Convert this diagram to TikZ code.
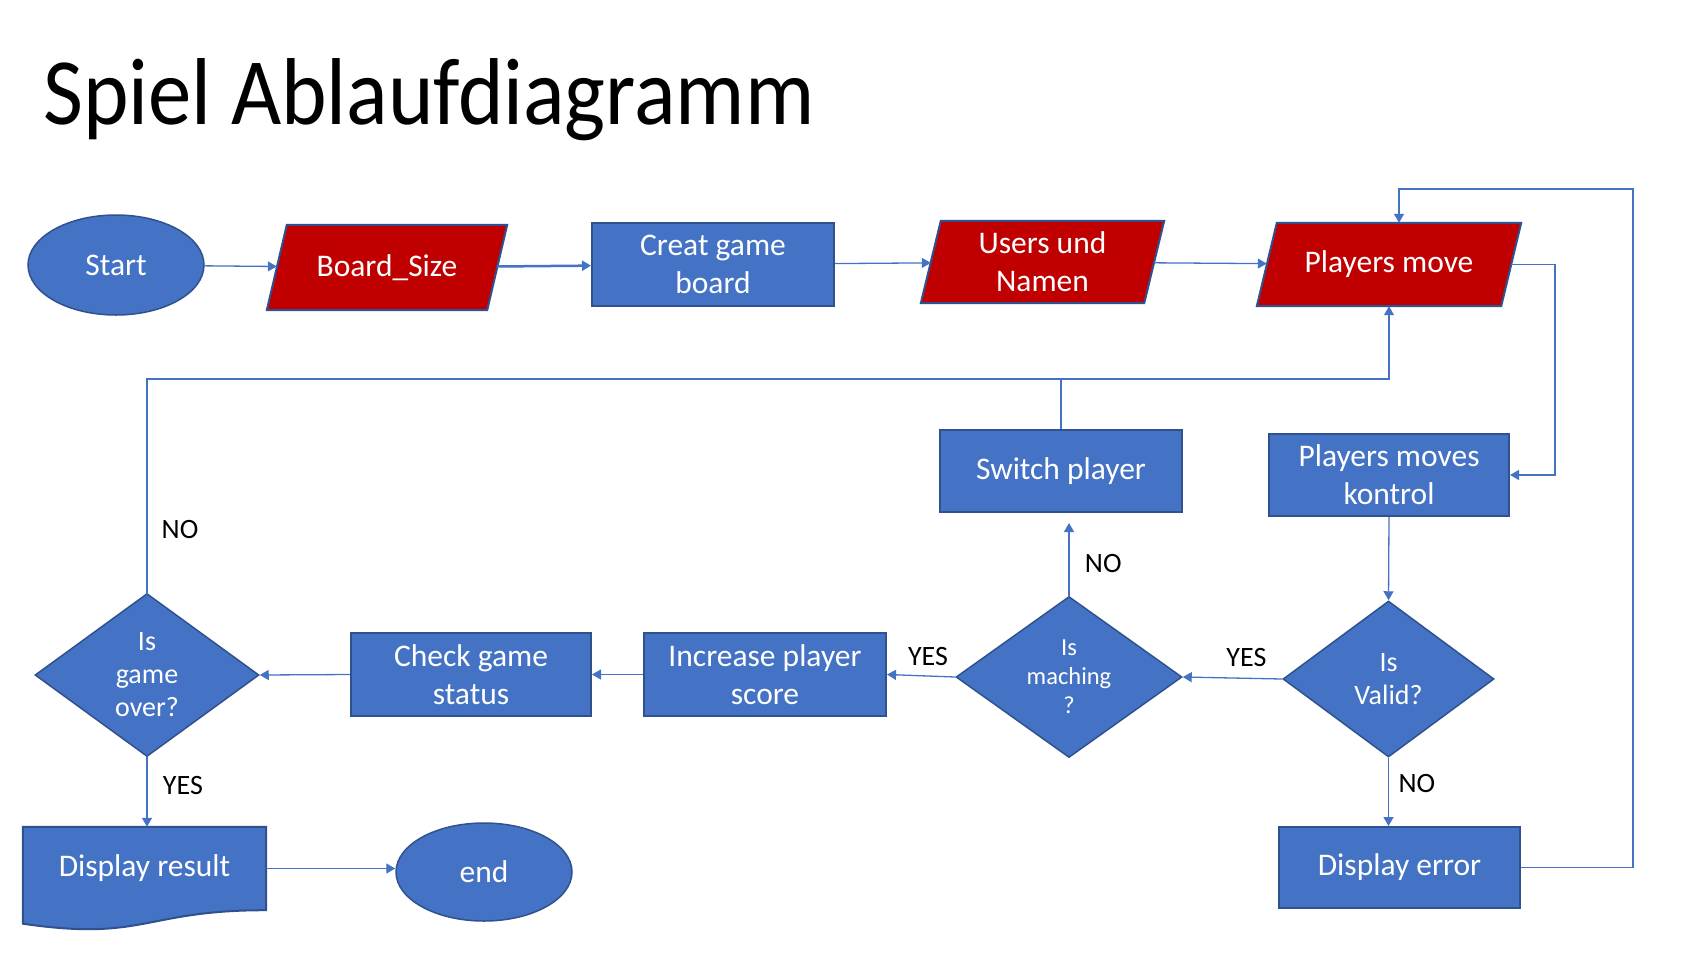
\documentclass[tikz,border=0pt]{standalone}
\usepackage{fontspec}
\setmainfont{Carlito}
\usetikzlibrary{shapes.geometric,arrows.meta,backgrounds}
\definecolor{bfill}{HTML}{4472C4}
\definecolor{bdraw}{HTML}{2F528F}
\definecolor{rfill}{HTML}{C00000}
\tikzset{
  box/.style={rectangle, fill=bfill, draw=bdraw, line width=2pt, text=white, align=center, inner sep=0pt,
    font=\fontsize{31.5}{38}\selectfont},
  para/.style={rectangle, text=white, align=center, inner sep=0pt, font=\fontsize{31.5}{38}\selectfont},
  oval/.style={ellipse, fill=bfill, draw=bdraw, line width=1.5pt, text=white, inner sep=0pt,
    font=\fontsize{31.5}{38}\selectfont},
  dia/.style={diamond, fill=bfill, draw=bdraw, line width=1.5pt, text=white, align=center, inner sep=0pt},
  conn/.style={draw=bfill, line width=1.3pt},
  arr/.style={conn, -{Triangle[width=10pt,length=9pt]}},
  lbl/.style={text=black, font=\fontsize{28}{32}\selectfont},
}
\begin{document}
\begin{tikzpicture}[x=1pt,y=-1pt]
\useasboundingbox (0,0) rectangle (1683,954);
% title
\node[anchor=base west, inner sep=0pt, font=\fontsize{95}{110}\selectfont] (title) at (43,124.5) {\scalebox{0.913}[1]{Spiel Ablaufdiagramm}};
% nodes
\node[oval, minimum width=176pt, minimum height=100pt] (start) at (116,265) {Start};
\node[para, minimum width=220pt, minimum height=85pt] (board) at (387,267.5) {Board\_Size};
\node[box, minimum width=242pt, minimum height=83pt] (creat) at (713,264.5) {Creat game\\board};
\node[para, minimum width=223pt, minimum height=82pt] (users) at (1042.5,262) {Users und\\Namen};
\node[para, minimum width=244pt, minimum height=83pt] (players) at (1389,264.5) {Players move};
\node[box, minimum width=242pt, minimum height=82pt] (switch) at (1061,471) {Switch player};
\node[box, minimum width=240pt, minimum height=82pt] (kontrol) at (1389,475) {Players moves\\kontrol};
\node[dia, minimum width=224pt, minimum height=163pt, font=\fontsize{28}{33}\selectfont] (gameover) at (147,675) {Is\\game\\over?};
\node[box, minimum width=240pt, minimum height=83pt] (check) at (471,674.5) {Check game\\status};
\node[box, minimum width=242pt, minimum height=83pt] (increase) at (765,674.5) {Increase player\\score};
\node[dia, minimum width=226pt, minimum height=161pt, font=\fontsize{24.5}{29}\selectfont] (maching) at (1069,677) {Is\\maching\\?};
\node[dia, minimum width=211pt, minimum height=156pt, font=\fontsize{28}{33}\selectfont] (valid) at (1388.5,679) {Is\\Valid?};
\node[box, minimum width=241pt, minimum height=81pt] (error) at (1399.5,867.5) {Display error};
\node[oval, minimum width=176pt, minimum height=98pt] (end) at (484,872) {end};
\node[para, minimum width=243pt, minimum height=83pt] (result) at (144.5,868.5) {Display result};
% shapes behind
\begin{scope}[on background layer]
  \foreach \n in {board,users,players}{
    \filldraw[fill=rfill, draw=bdraw, line width=2pt]
      ([xshift=10pt]\n.north west) -- ([xshift=10pt]\n.north east) --
      ([xshift=-10pt]\n.south east) -- ([xshift=-10pt]\n.south west) -- cycle;
  }
  \filldraw[fill=bfill, draw=bdraw, line width=2pt]
    (result.north west) -- (result.north east) -- (result.south east)
    .. controls (144.5,910) and (144.5,941.6) .. (23,923.7) -- cycle;
\end{scope}
% connectors
\coordinate (bus) at (1389,379);
\coordinate (nofree) at (1069,523);
\draw[arr] (start) -- (board);
\draw[arr, line width=2.5pt] (board) -- (creat);
\draw[arr] (creat) -- (users);
\draw[arr] (users) -- (players);
\draw[arr] (players.east) -- (1555,264.5) |- (kontrol.east);
\draw[arr] (kontrol.south) -- (valid.north);
\draw[arr] (valid.west) -- node[lbl, above=8pt, pos=0.36] {YES} (maching.east);
\draw[arr] (valid.south) -- node[lbl, right=6pt, pos=0.38] {NO} (valid.south |- error.north);
\draw[arr] (error.east) -- (1633,867.5) |- (1399,189) -- ([xshift=10pt]players.north);
\draw[arr] (maching.north) -- node[lbl, right=12pt, pos=0.45] {NO} (nofree);
\draw[conn] (switch.north) -- (switch.north |- bus);
\draw[arr] (gameover.north) |- (bus) -- (players.south);
\node[lbl] at (180,529) {NO};
\draw[arr] (maching.west) -- node[lbl, above=6pt, pos=0.4] {YES} (increase.east);
\draw[arr] (increase.west) -- (check.east);
\draw[arr] (check.west) -- (gameover.east);
\draw[arr] (gameover.south) -- node[lbl, right=12pt, pos=0.4] {YES} (gameover.south |- result.north);
\draw[arr] (result.east) -- (result.east -| end.west);
\end{tikzpicture}
\end{document}
